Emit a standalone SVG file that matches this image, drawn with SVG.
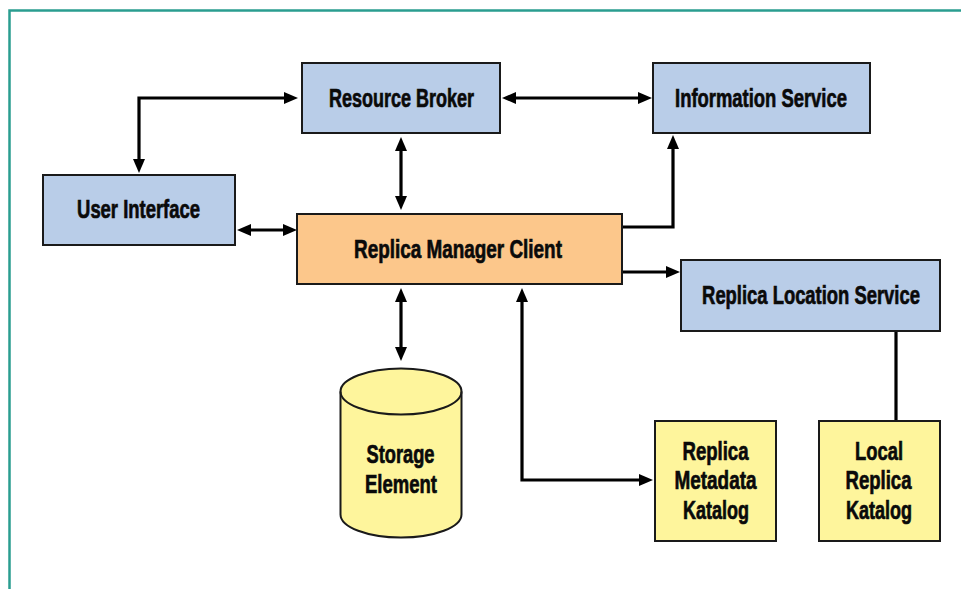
<svg xmlns="http://www.w3.org/2000/svg" width="961" height="589" viewBox="0 0 961 589">
<style>
.frame{fill:none;stroke:#2a9d90;stroke-width:2.5}
.box{stroke:#1a1a1a;stroke-width:2}
.blue{fill:#b9cde8}
.orange{fill:#fcc78b}
.yellow{fill:#fef59c}
.conn{fill:none;stroke:#000;stroke-width:3.2}
text{font-family:"Liberation Sans",Arial,sans-serif;font-weight:bold;font-size:26px;fill:#0a0a0a;stroke:#0a0a0a;stroke-width:0.7;text-anchor:middle}
</style>
<defs>
<marker id="ah" viewBox="0 0 14 12" refX="3" refY="6" markerWidth="14" markerHeight="12" markerUnits="userSpaceOnUse" orient="auto-start-reverse">
<path d="M0,0 L14,6 L0,12 z" fill="#000"/>
</marker>
</defs>
<rect width="961" height="589" fill="#fff"/>
<path class="frame" d="M9.5,589 V10.5 H961"/>
<g id="connectors">
<path class="conn" d="M139,162 V98 H287" marker-start="url(#ah)" marker-end="url(#ah)"/>
<path class="conn" d="M513,98 H641" marker-start="url(#ah)" marker-end="url(#ah)"/>
<path class="conn" d="M401,148 V199" marker-start="url(#ah)" marker-end="url(#ah)"/>
<path class="conn" d="M248,230 H286" marker-start="url(#ah)" marker-end="url(#ah)"/>
<path class="conn" d="M622,227 H673 V146" marker-end="url(#ah)"/>
<path class="conn" d="M622,272 H669" marker-end="url(#ah)"/>
<path class="conn" d="M401,299 V350" marker-start="url(#ah)" marker-end="url(#ah)"/>
<path class="conn" d="M522,299 V480 H642" marker-start="url(#ah)" marker-end="url(#ah)"/>
<path class="conn" d="M896,331 V421"/>
</g>
<g id="resource-broker">
<rect class="box blue" x="302" y="63" width="198" height="70"/>
<text transform="translate(401.5,106.5) scale(0.692,1)">Resource Broker</text>
</g>
<g id="information-service">
<rect class="box blue" x="653" y="63" width="217" height="70"/>
<text transform="translate(761,107) scale(0.709,1)">Information Service</text>
</g>
<g id="user-interface">
<rect class="box blue" x="43" y="175" width="192" height="70"/>
<text transform="translate(138.5,218.3) scale(0.709,1)">User Interface</text>
</g>
<g id="replica-manager-client">
<rect class="box orange" x="297" y="214" width="325" height="70"/>
<text transform="translate(458,257.5) scale(0.727,1)">Replica Manager Client</text>
</g>
<g id="replica-location-service">
<rect class="box blue" x="681" y="260" width="259" height="71"/>
<text transform="translate(811,303.5) scale(0.708,1)">Replica Location Service</text>
</g>
<g id="storage-element">
<path class="box yellow" d="M340.5,391.5 V514.5 A60.5,23 0 0 0 461.5,514.5 V391.5 A60.5,23 0 0 0 340.5,391.5 Z"/>
<path class="box" fill="none" d="M340.5,391.5 A60.5,23 0 0 0 461.5,391.5"/>
<text transform="translate(400.5,462.5) scale(0.702,1)">Storage</text>
<text transform="translate(401,492.5) scale(0.712,1)">Element</text>
</g>
<g id="replica-metadata-katalog">
<rect class="box yellow" x="655" y="421" width="121" height="120"/>
<text transform="translate(715.5,459.5) scale(0.714,1)">Replica</text>
<text transform="translate(715.5,489) scale(0.728,1)">Metadata</text>
<text transform="translate(716,518.5) scale(0.692,1)">Katalog</text>
</g>
<g id="local-replica-katalog">
<rect class="box yellow" x="819" y="421" width="121" height="120"/>
<text transform="translate(879,459.5) scale(0.707,1)">Local</text>
<text transform="translate(878.5,489) scale(0.714,1)">Replica</text>
<text transform="translate(879,518.5) scale(0.692,1)">Katalog</text>
</g>
</svg>
